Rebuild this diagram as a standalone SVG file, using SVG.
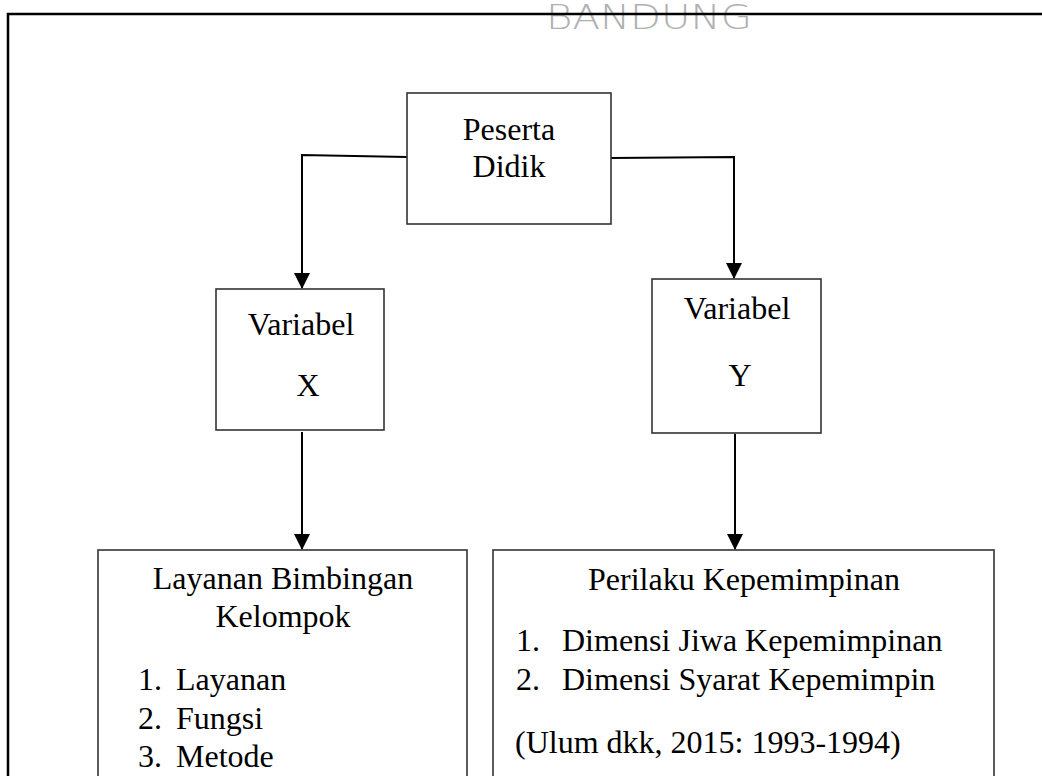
<svg xmlns="http://www.w3.org/2000/svg" width="1042" height="776" viewBox="0 0 1042 776">
  <style>
    .box { fill: #ffffff; stroke: #333333; stroke-width: 1.6; }
    .t { font-family: "Liberation Serif", "Times New Roman", serif; font-size: 32px; fill: #000000; }
    .c { text-anchor: middle; }
    .conn { fill: none; stroke: #000000; stroke-width: 2; }
    .wm { font-family: "DejaVu Sans", sans-serif; font-size: 33px; font-weight: 300; fill: #b0b0b0; }
  </style>
  <defs>
    <marker id="arrow" markerUnits="userSpaceOnUse" markerWidth="16" markerHeight="18" refX="15" refY="8" orient="auto">
      <polygon points="0,0 16,8 0,16" fill="#000000"/>
    </marker>
  </defs>
  <rect x="0" y="0" width="1042" height="776" fill="#ffffff"/>

  <g id="watermark">
    <text class="wm" x="546" y="29" textLength="206" lengthAdjust="spacingAndGlyphs">BANDUNG</text>
  </g>

  <g id="frame">
    <path d="M8 790 V14 H1050" fill="none" stroke="#000000" stroke-width="2.5"/>
  </g>

  <g id="connectors">
    <path class="conn" d="M407 157 L302 155 L302 288" marker-end="url(#arrow)"/>
    <path class="conn" d="M611 158 L734 157 L734 278" marker-end="url(#arrow)"/>
    <path class="conn" d="M302 432 L302 549" marker-end="url(#arrow)"/>
    <path class="conn" d="M735 434 L735 549" marker-end="url(#arrow)"/>
  </g>

  <g id="node-peserta">
    <rect class="box" x="407" y="93" width="204" height="131"/>
    <text class="t c" x="509" y="140">Peserta</text>
    <text class="t c" x="509" y="177">Didik</text>
  </g>

  <g id="node-varx">
    <rect class="box" x="216" y="289" width="168" height="141"/>
    <text class="t c" x="301" y="335">Variabel</text>
    <text class="t c" x="308" y="396">X</text>
  </g>

  <g id="node-vary">
    <rect class="box" x="652" y="279" width="169" height="154"/>
    <text class="t c" x="737" y="319">Variabel</text>
    <text class="t c" x="740" y="386">Y</text>
  </g>

  <g id="node-layanan">
    <rect class="box" x="98" y="550" width="369" height="250"/>
    <text class="t c" x="283" y="589">Layanan Bimbingan</text>
    <text class="t c" x="283" y="627">Kelompok</text>
    <text class="t" x="138" y="690">1.</text>
    <text class="t" x="176" y="690">Layanan</text>
    <text class="t" x="138" y="729">2.</text>
    <text class="t" x="176" y="729">Fungsi</text>
    <text class="t" x="138" y="767">3.</text>
    <text class="t" x="176" y="767">Metode</text>
  </g>

  <g id="node-perilaku">
    <rect class="box" x="493" y="550" width="501" height="250"/>
    <text class="t c" x="744" y="590">Perilaku Kepemimpinan</text>
    <text class="t" x="516" y="651">1.</text>
    <text class="t" x="562" y="651">Dimensi Jiwa Kepemimpinan</text>
    <text class="t" x="516" y="690">2.</text>
    <text class="t" x="562" y="690">Dimensi Syarat Kepemimpin</text>
    <text class="t" x="515" y="753">(Ulum dkk, 2015: 1993-1994)</text>
  </g>
</svg>
